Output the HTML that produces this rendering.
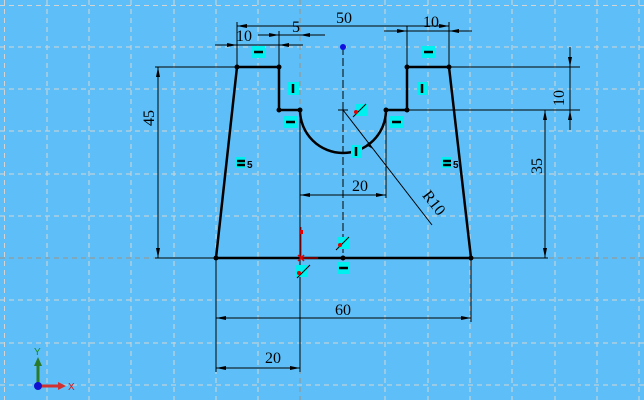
<!DOCTYPE html>
<html><head><style>
html,body{margin:0;padding:0;background:#5ebff8;}
svg{display:block;font-family:"Liberation Serif",serif;}
</style></head><body>
<svg width="644" height="400" viewBox="0 0 644 400" xmlns="http://www.w3.org/2000/svg">
<rect width="644" height="400" fill="#5ebff8"/>
<g stroke="#d4d4d4" stroke-width="1" stroke-dasharray="5,4">
<path d="M4.5 0V400M47 0V400M89 0V400M131 0V400M174 0V400M216 0V400M258 0V400M300 0V400M385 0V400M428 0V400M470 0V400M512 0V400M555 0V400M597 0V400M639 0V400"/>
<path d="M0 5.5H644M0 47H644M0 89H644M0 131H644M0 174H644M0 216H644M0 300H644M0 343H644M0 385H644"/>
</g>
<path d="M0 258H644" stroke="#a09080" stroke-dasharray="5,4"/>
<path d="M300 0V400" stroke="#a09080" stroke-dasharray="5,4"/>
<!-- center line -->
<path d="M343 47V258" stroke="#000" stroke-dasharray="8,3"/>
<circle cx="343" cy="47" r="3" fill="#1010e0"/>
<!-- profile -->
<g stroke="#000" stroke-width="2.5" fill="none">
<path d="M216 258L237 67H279V110H300A43 43 0 0 0 386 110H407V67H449L471 258Z"/>
</g>
<g fill="#000">
<circle cx="216" cy="258" r="2.5"/><circle cx="237" cy="67" r="2.5"/><circle cx="279" cy="67" r="2.5"/><circle cx="279" cy="110" r="2.5"/><circle cx="300" cy="110" r="2.5"/><circle cx="386" cy="110" r="2.5"/><circle cx="407" cy="110" r="2.5"/><circle cx="407" cy="67" r="2.5"/><circle cx="449" cy="67" r="2.5"/><circle cx="471" cy="258" r="2.5"/><circle cx="343" cy="258" r="2.5"/>
</g>
<!-- dimension lines -->
<g stroke="#000" stroke-width="1" fill="none">
<path d="M237 67V22M449 67V22M279 67V31M300 110V372M407 67V26M237 26H449"/>
<path d="M215 45H303M258 35H325M384 31H472"/>
<path d="M155 67H237M155 258H216M158 67V258"/>
<path d="M449 67H580M407 110H580M570 47V130M471 258H548M545 110V258"/>
<path d="M386 110V198M300 195H386"/>
<path d="M343 110L432 225"/>
<path d="M216 258V372M471 258V322M216 318H471M216 368H300"/>
<path d="M338 110H348M343 105V115"/>
</g>
<g fill="#000">
<path d="M237 26l10-2v4zM449 26l-10-2v4z"/>
<path d="M237 45l-10-2v4zM279 45l10-2v4zM279 35l-10-2v4zM300 35l10-2v4zM407 31l-10-2v4zM449 31l10-2v4z"/>
<path d="M158 67l-2 10h4zM158 258l-2-10h4z"/>
<path d="M570 67l-2-10h4zM570 110l-2 10h4zM545 110l-2 10h4zM545 258l-2-10h4z"/>
<path d="M300 195l10-2v4zM386 195l-10-2v4z"/>
<path d="M216 318l10-2v4zM471 318l-10-2v4zM216 368l10-2v4zM300 368l-10-2v4z"/>
<path d="M373 149l-7-4 3-3z"/>
</g>
<g font-size="16" fill="#000" text-anchor="middle">
<text x="344" y="23">50</text>
<text x="244" y="41">10</text>
<text x="296" y="32">5</text>
<text x="431" y="27">10</text>
<text x="360" y="191">20</text>
<text x="343" y="315">60</text>
<text x="273" y="363">20</text>
<text transform="translate(154,118) rotate(-90)">45</text>
<text transform="translate(564,98) rotate(-90)">10</text>
<text transform="translate(542,166) rotate(-90)">35</text>
<text transform="translate(430,206) rotate(52)">R10</text>
</g>
<!-- constraint icons -->
<g fill="#00f0f0">
<rect x="252" y="46" width="13" height="12"/><rect x="422" y="46" width="13" height="12"/>
<rect x="288" y="82" width="11" height="13"/><rect x="417" y="82" width="11" height="13"/>
<rect x="284" y="116" width="13" height="12"/><rect x="390" y="116" width="13" height="12"/>
<rect x="351" y="145" width="11" height="13"/>
<rect x="235" y="157" width="11" height="11"/><rect x="441" y="157" width="11" height="11"/>
<rect x="337" y="262" width="13" height="12"/>
<rect x="355" y="104" width="12" height="12"/><rect x="338" y="237" width="12" height="12"/><rect x="295" y="265" width="12" height="12"/>
</g>
<g stroke="#000" stroke-width="2.5">
<path d="M254 52H263M424 52H433M286 122H295M392 122H401M339 268H348"/>
<path d="M293 84V93M422 84V93M356 147V156"/>
<path d="M237 161H245M237 165H245M443 161H451M443 165H451"/>
</g>
<g stroke="#000" stroke-width="1">
<path d="M353 117L366 104M336 250L349 237M297 278L310 265"/>
</g>
<g fill="#e00000"><circle cx="356" cy="112" r="2"/><circle cx="340" cy="245" r="2"/><circle cx="299" cy="273" r="2"/></g>
<g font-size="10" font-family="Liberation Sans,sans-serif" font-weight="bold" fill="#000"><text x="247" y="168">5</text><text x="453" y="168">5</text></g>
<!-- origin marker -->
<path d="M301 227V258M301 258H318" stroke="#e00000" stroke-width="1"/>
<path d="M298 255l6 6M304 255l-6 6" stroke="#e00000" stroke-width="1.5"/>
<rect x="300" y="230" width="3" height="4" fill="#e00000"/>
<!-- axis triad -->
<path d="M38 385V362" stroke="#2a7a2a" stroke-width="3"/>
<path d="M38 357l-4 9h8z" fill="#2a7a2a"/>
<path d="M38 386H62" stroke="#d03030" stroke-width="3"/>
<path d="M66 386l-8-4v8z" fill="#d03030"/>
<circle cx="38" cy="386" r="4" fill="#1010d0"/>
<text x="34" y="355" font-size="10" fill="#1a8a1a" font-family="Liberation Sans,sans-serif">Y</text>
<text x="68" y="390" font-size="10" fill="#e01010" font-family="Liberation Sans,sans-serif">X</text>
</svg>
</body></html>
